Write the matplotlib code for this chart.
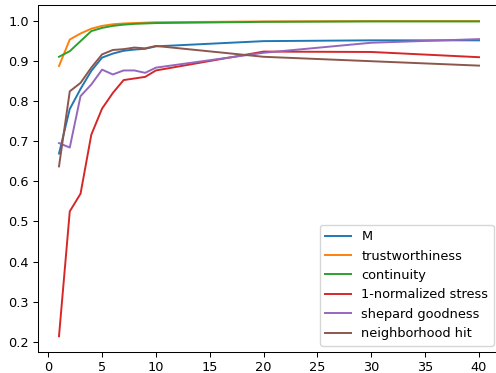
import matplotlib
matplotlib.use("Agg")
import matplotlib.pyplot as plt

x = [1, 2, 3, 4, 5, 6, 7, 8, 9, 10, 20, 30, 40]
m_vals = [0.669, 0.780, 0.830, 0.875, 0.908, 0.918, 0.925, 0.928, 0.930, 0.936, 0.949, 0.951, 0.951]
trust = [0.887, 0.953, 0.968, 0.980, 0.987, 0.991, 0.993, 0.994, 0.995, 0.996, 0.998, 0.999, 0.999]
contin = [0.910, 0.924, 0.949, 0.974, 0.982, 0.987, 0.990, 0.992, 0.993, 0.994, 0.997, 0.998, 0.998]
stress = [0.214, 0.525, 0.569, 0.716, 0.781, 0.820, 0.852, 0.856, 0.860, 0.876, 0.923, 0.922, 0.909]
shepard = [0.695, 0.684, 0.812, 0.841, 0.878, 0.866, 0.876, 0.876, 0.870, 0.883, 0.920, 0.945, 0.954]
nhit = [0.637, 0.824, 0.845, 0.883, 0.916, 0.927, 0.929, 0.933, 0.931, 0.937, 0.910, 0.899, 0.888]

labels = ["M", "trustworthiness", "continuity", "1-normalized stress",
          "shepard goodness", "neighborhood hit"]
series = [m_vals, trust, contin, stress, shepard, nhit]

s = 0.93
plt.rcParams.update({
    "font.size": 10 * s,
    "lines.linewidth": 1.5 * s,
    "axes.linewidth": 0.8 * s,
    "xtick.major.size": 3.5 * s,
    "ytick.major.size": 3.5 * s,
    "xtick.major.width": 0.8 * s,
    "ytick.major.width": 0.8 * s,
    "xtick.major.pad": 3.5 * s,
    "ytick.major.pad": 3.5 * s,
})

fig = plt.figure(figsize=(4.96, 3.73), dpi=100)
ax = fig.add_axes([38 / 496, 1 - 352 / 373, (500 - 38) / 496, (352 - 5.3) / 373])
for vals, lab in zip(series, labels):
    ax.plot(x, vals, label=lab)
ax.set_xticks([0, 5, 10, 15, 20, 25, 30, 35, 40])
ax.legend(loc="lower right")
fig.savefig("out.png", dpi=100)
